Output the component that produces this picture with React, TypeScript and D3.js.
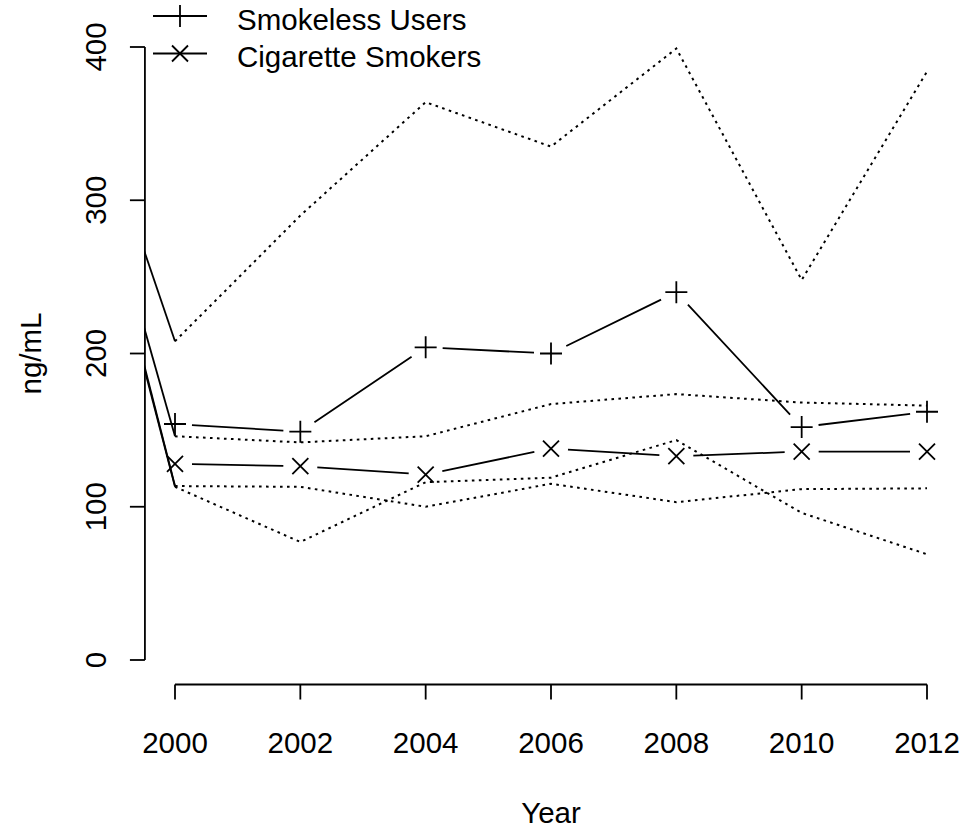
import React from "react";
import * as d3 from "d3";

const years = [2000, 2002, 2004, 2006, 2008, 2010, 2012];
const smokeless = [154, 149, 204, 200, 240, 152, 162];
const smokelessUpper = [208, 290, 364, 335, 399, 248, 384];
const smokelessLower = [146, 142, 146, 167, 173.5, 168, 166];
const cigarette = [128, 126.5, 121, 138, 133, 136, 136];
const cigaretteBandA = [113.5, 113, 100, 115, 103, 111.5, 112];
const cigaretteBandB = [113, 77, 116, 119, 143.5, 96, 69];
const leadInYear = 1999;
const leadInValues = [328, 290, 274, 271];
const yTicks = [0, 100, 200, 300, 400];
const xTicks = [2000, 2002, 2004, 2006, 2008, 2010, 2012];
const legendLabels = ["Smokeless Users", "Cigarette Smokers"];

const FONT = "Liberation Sans, Arial, Helvetica, sans-serif";
const FS = 29.5;

export default function App() {
  const W = 971, H = 834;
  const x = d3.scaleLinear().domain([2000, 2012]).range([175, 927]);
  const y = d3.scaleLinear().domain([0, 400]).range([660, 47]);
  const plot = { x0: x(1999.52), x1: x(2012.48), y0: y(416), y1: y(-16) };

  const line = d3.line<[number, number]>().x(d => x(d[0])).y(d => y(d[1]));
  const bands = [smokelessUpper, smokelessLower, cigaretteBandA, cigaretteBandB];
  const gap = 17;

  const bSegments = (vals: number[]) => {
    const segs: string[] = [];
    for (let i = 0; i < vals.length - 1; i++) {
      const ax = x(years[i]), ay = y(vals[i]);
      const bx = x(years[i + 1]), by = y(vals[i + 1]);
      const dx = bx - ax, dy = by - ay;
      const len = Math.hypot(dx, dy);
      if (len <= 2 * gap) continue;
      const ux = dx / len, uy = dy / len;
      segs.push(`M${ax + ux * gap},${ay + uy * gap}L${bx - ux * gap},${by - uy * gap}`);
    }
    return segs.join("");
  };

  const plus = (cx: number, cy: number, r: number, key: string) => (
    <path key={key} d={`M${cx - r},${cy}H${cx + r}M${cx},${cy - r}V${cy + r}`} stroke="#000" strokeWidth={1.8} fill="none" />
  );
  const cross = (cx: number, cy: number, r: number, key: string) => (
    <path key={key} d={`M${cx - r},${cy - r}L${cx + r},${cy + r}M${cx - r},${cy + r}L${cx + r},${cy - r}`} stroke="#000" strokeWidth={1.8} fill="none" />
  );

  return (
    <svg width={W} height={H} style={{ display: "block", position: "absolute", left: 0, top: 0 }} fontFamily={FONT}>
      <rect width={W} height={H} fill="#fff" />
      <defs>
        <clipPath id="plotclip">
          <rect x={plot.x0} y={plot.y0} width={plot.x1 - plot.x0} height={plot.y1 - plot.y0} />
        </clipPath>
      </defs>
      <g clipPath="url(#plotclip)">
        {bands.map((b, i) => (
          <path key={"lead" + i} d={line([[leadInYear, leadInValues[i]], [years[0], b[0]]]) || ""} stroke="#000" strokeWidth={1.8} fill="none" />
        ))}
        {bands.map((b, i) => (
          <path key={"band" + i} d={line(years.map((yr, j) => [yr, b[j]] as [number, number])) || ""} stroke="#000" strokeWidth={2} strokeDasharray="2.6,4.4" fill="none" />
        ))}
        <path d={bSegments(smokeless)} stroke="#000" strokeWidth={1.8} fill="none" />
        <path d={bSegments(cigarette)} stroke="#000" strokeWidth={1.8} fill="none" />
        {smokeless.map((v, i) => plus(x(years[i]), y(v), 11, "p" + i))}
        {cigarette.map((v, i) => cross(x(years[i]), y(v), 8, "c" + i))}
      </g>

      {/* y axis */}
      <line x1={plot.x0} x2={plot.x0} y1={y(0)} y2={y(400)} stroke="#000" strokeWidth={1.8} />
      {yTicks.map(t => (
        <g key={"yt" + t}>
          <line x1={plot.x0 - 15} x2={plot.x0} y1={y(t)} y2={y(t)} stroke="#000" strokeWidth={1.8} />
          <text transform={`translate(${plot.x0 - 39},${y(t)}) rotate(-90)`} textAnchor="middle" fontSize={FS} fill="#000">{t}</text>
        </g>
      ))}
      {/* x axis */}
      <line x1={x(2000)} x2={x(2012)} y1={plot.y1} y2={plot.y1} stroke="#000" strokeWidth={1.8} />
      {xTicks.map(t => (
        <g key={"xt" + t}>
          <line x1={x(t)} x2={x(t)} y1={plot.y1} y2={plot.y1 + 15} stroke="#000" strokeWidth={1.8} />
          <text x={x(t)} y={plot.y1 + 68} textAnchor="middle" fontSize={FS} fill="#000">{t}</text>
        </g>
      ))}
      <text x={(x(2000) + x(2012)) / 2} y={823} textAnchor="middle" fontSize={FS} fill="#000">Year</text>
      <text transform={`translate(41,${(y(0) + y(400)) / 2}) rotate(-90)`} textAnchor="middle" fontSize={FS} fill="#000">ng/mL</text>

      {/* legend */}
      {legendLabels.map((lab, i) => {
        const ly = 16 + i * 37.5;
        return (
          <g key={"lg" + i}>
            <line x1={153} x2={207} y1={ly} y2={ly} stroke="#000" strokeWidth={1.8} />
            {i === 0 ? plus(180, ly, 11, "lp") : cross(180, ly, 8, "lc")}
            <text x={237} y={ly + 13.5} fontSize={FS} fill="#000">{lab}</text>
          </g>
        );
      })}
    </svg>
  );
}
